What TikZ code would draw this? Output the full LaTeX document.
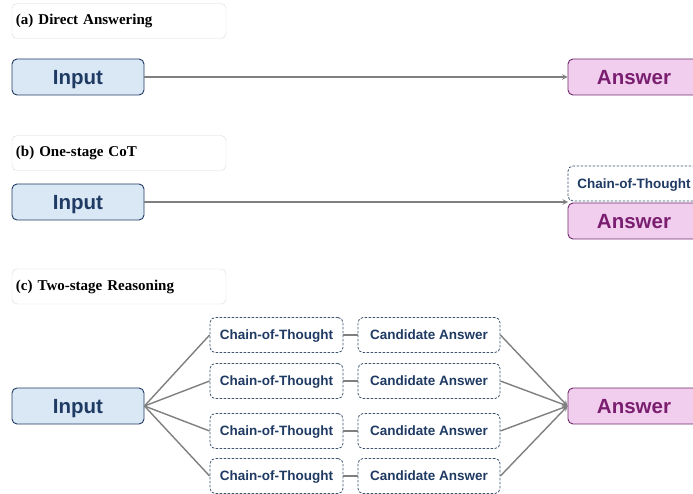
\documentclass[tikz,border=0pt]{standalone}
\usepackage{fontspec}
\setmainfont{Liberation Serif}
\setsansfont{Liberation Sans}
\definecolor{inblue}{HTML}{DAE8F6}
\definecolor{navy}{HTML}{1F3A63}
\definecolor{anspink}{HTML}{F2CEEE}
\definecolor{ansedge}{HTML}{6E2A6B}
\definecolor{anstext}{HTML}{7A1E70}
\definecolor{dashedge}{HTML}{3E536E}
\definecolor{linegray}{HTML}{7F7F7F}
\tikzset{
  titlebox/.style={draw=black!15, rounded corners=5pt, minimum width=214pt, minimum height=35pt,
    text width=206pt, align=left, font=\fontsize{15}{17}\selectfont\bfseries},
  inbox/.style={draw=navy, fill=inblue, rounded corners=5pt, line width=0.9pt,
    minimum width=132pt, minimum height=36pt, text=navy, text depth=0pt,
    font=\sffamily\bfseries\fontsize{20.5}{24}\selectfont},
  ansbox/.style={draw=ansedge, fill=anspink, rounded corners=5pt, line width=0.9pt,
    minimum width=132pt, minimum height=36pt, text=anstext, text depth=0pt,
    font=\sffamily\bfseries\fontsize{20.5}{24}\selectfont},
  cotbox/.style={draw=dashedge, dash pattern=on 2.5pt off 1.5pt, fill=white, rounded corners=5pt,
    line width=0.8pt, minimum height=35pt, text=navy, text depth=0pt,
    font=\sffamily\bfseries\fontsize{13.5}{16}\selectfont},
  link/.style={draw=linegray, line width=1.4pt}
}
\begin{document}
\begin{tikzpicture}[x=1pt, y=-1pt, line join=round, >=stealth]
\useasboundingbox (0,0) rectangle (693,494);
% (a) trả lời trực tiếp
\node[titlebox] (ta) at (119,21) {(a) Direct Answering};
\node[inbox] (ina) at (78,77) {Input};
\node[ansbox] (ansa) at (634,77) {Answer};
\draw[link,->] (ina.east) -- (ansa.west);
% (b) CoT một giai đoạn
\node[titlebox] (tb) at (119,153) {(b) One-stage CoT};
\node[inbox] (inb) at (78,202) {Input};
\node[cotbox, minimum width=132pt] (cotb) at (634,183.5) {Chain-of-Thought};
\node[ansbox] (ansb) at (634,221) {Answer};
\coordinate (joint) at (568,202);
\draw[link,->] (inb.east) -- (joint);
% (c) suy luận hai giai đoạn
\node[titlebox] (tc) at (119,286.5) {(c) Two-stage Reasoning};
\node[inbox] (inc) at (78,406) {Input};
\node[ansbox] (ansc) at (634,406) {Answer};
% các nhánh CoT và đáp án ứng viên
\node[cotbox, minimum width=133pt] (cot1) at (276.5,335) {Chain-of-Thought};
\node[cotbox, minimum width=133pt] (cot2) at (276.5,381) {Chain-of-Thought};
\node[cotbox, minimum width=133pt] (cot3) at (276.5,431) {Chain-of-Thought};
\node[cotbox, minimum width=133pt] (cot4) at (276.5,476) {Chain-of-Thought};
\node[cotbox, minimum width=142pt] (cand1) at (429,335) {Candidate Answer};
\node[cotbox, minimum width=142pt] (cand2) at (429,381) {Candidate Answer};
\node[cotbox, minimum width=142pt] (cand3) at (429,431) {Candidate Answer};
\node[cotbox, minimum width=142pt] (cand4) at (429,476) {Candidate Answer};
% nối Input -> CoT
\draw[link] (inc.east) -- (cot1.west);
\draw[link] (inc.east) -- (cot2.west);
\draw[link] (inc.east) -- (cot3.west);
\draw[link] (inc.east) -- (cot4.west);
% nối CoT -> Candidate
\draw[link] (cot1.east) -- (cand1.west);
\draw[link] (cot2.east) -- (cand2.west);
\draw[link] (cot3.east) -- (cand3.west);
\draw[link] (cot4.east) -- (cand4.west);
% nối Candidate -> Answer
\draw[link,->] (cand1.east) -- (ansc.west);
\draw[link,->] (cand2.east) -- (ansc.west);
\draw[link,->] (cand3.east) -- (ansc.west);
\draw[link,->] (cand4.east) -- (ansc.west);
\end{tikzpicture}
\end{document}
